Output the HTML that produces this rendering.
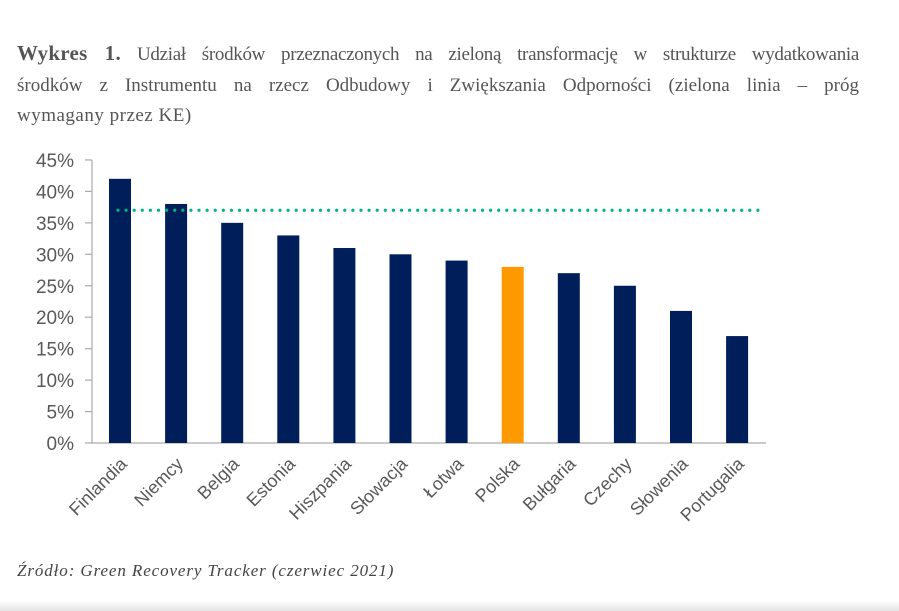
<!DOCTYPE html>
<html><head><meta charset="utf-8">
<style>
body{margin:0;background:#fff;width:899px;height:611px;overflow:hidden;position:relative;font-family:"Liberation Serif",serif}
.l{position:absolute;left:17px;width:842px;color:#555;font-size:19px;line-height:30px;white-space:nowrap}
.j{text-align:justify;text-align-last:justify;white-space:normal}
.src{position:absolute;left:17px;top:561px;font-style:italic;font-size:17px;letter-spacing:0.9px;color:#444}
.band{position:absolute;left:0;top:600px;width:899px;height:11px;background:linear-gradient(#fff,#e4e4e4)}
</style></head><body>
<div>
<div class="l j" style="top:38px;letter-spacing:-0.3px"><b style="font-size:21px;color:#555;letter-spacing:0.3px">Wykres 1.</b> Udział środków przeznaczonych na zieloną transformację w strukturze wydatkowania</div>
<div class="l j" style="top:71px">środków z Instrumentu na rzecz Odbudowy i Zwiększania Odporności (zielona linia – próg</div>
<div class="l" style="top:101px;letter-spacing:0.5px">wymagany przez KE)</div>
</div>
<svg width="899" height="611" style="position:absolute;left:0;top:0">
<g id="g"></g>
</svg>
<div class="src">Źródło: Green Recovery Tracker (czerwiec 2021)</div>
<div class="band"></div>
<script>
const categories=["Finlandia","Niemcy","Belgia","Estonia","Hiszpania","Słowacja","Łotwa","Polska","Bułgaria","Czechy","Słowenia","Portugalia"];
const values=[42,38,35,33,31,30,29,28,27,25,21,17];
const highlight=["Polska"];
const threshold=[37];
const ticks=[0,5,10,15,20,25,30,35,40,45];
const NS="http://www.w3.org/2000/svg",g=document.getElementById('g');
const y=v=>443-v*6.29, x=i=>120+i*56.1;
function mk(t,a){const e=document.createElementNS(NS,t);for(const k in a)e.setAttribute(k,a[k]);g.appendChild(e);return e;}
let e=mk('line',{x1:92,x2:92,y1:160,y2:443,stroke:'#aaa','stroke-width':1.2});


e=mk('line',{x1:92,x2:766,y1:443,y2:443,stroke:'#aaa','stroke-width':1.2});


ticks.forEach(t=>{
 let l=mk('line',{x1:85,x2:92,y1:y(t),y2:y(t),stroke:'#aaa','stroke-width':1.2});
 
 
 let tx=mk('text',{x:74,y:y(t)+7,'text-anchor':'end','font-family':'Liberation Sans, sans-serif','font-size':19,fill:'#595959'});
 tx.textContent=t+'%';
 
 
});
categories.forEach((c,i)=>{
 let r=mk('rect',{x:x(i)-11,y:y(values[i]),width:22,height:y(0)-y(values[i]),fill:highlight.includes(c)?'#ff9900':'#001e5a'});
 
 
 let tx=mk('text',{x:x(i)+8,y:y(0)+22,'text-anchor':'end','font-family':'Liberation Sans, sans-serif','font-size':18,fill:'#595959',transform:`rotate(-45 ${x(i)+8} ${y(0)+22})`});
 tx.textContent=c;
 
 
});
e=mk('line',{x1:118,x2:762,y1:y(threshold[0]),y2:y(threshold[0]),stroke:'#00b388','stroke-width':3.2,'stroke-linecap':'round','stroke-dasharray':'0 8.1'});


</script>
</body></html>
